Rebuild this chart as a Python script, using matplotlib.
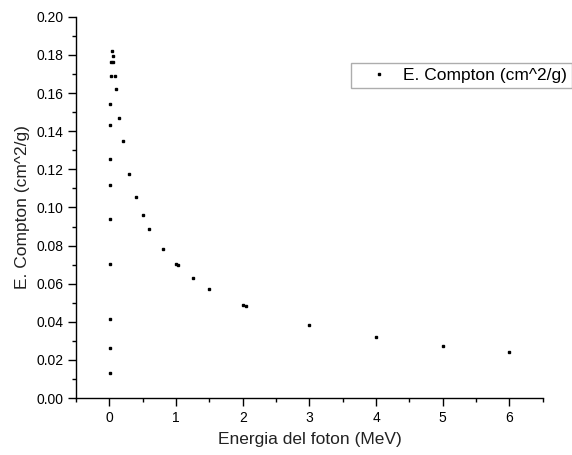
import matplotlib
matplotlib.use('Agg')
import matplotlib.pyplot as plt
from matplotlib.ticker import MultipleLocator

plt.rcParams['font.family'] = ['Liberation Sans', 'DejaVu Sans']

# energia del foton (MeV) y coeficiente Compton (cm^2/g)
energia = [0.0015, 0.002, 0.003, 0.004, 0.005, 0.006, 0.008, 0.01, 0.015, 0.02,
           0.03, 0.04, 0.05, 0.06, 0.08, 0.1, 0.15, 0.2, 0.3, 0.4, 0.5, 0.6,
           0.8, 1.0, 1.022, 1.25, 1.5, 2.0, 2.044, 3, 4, 5, 6]
compton = [0.0133, 0.0264, 0.0416, 0.0703, 0.094, 0.1118, 0.1253, 0.1435, 0.1545, 0.1692,
           0.1765, 0.1823, 0.1795, 0.1762, 0.1692, 0.162, 0.147, 0.1347, 0.1176, 0.1054, 0.0962, 0.0889,
           0.0782, 0.0703, 0.0697, 0.0628, 0.0572, 0.0487, 0.0483, 0.0385, 0.032, 0.0275, 0.0241]

fig = plt.figure(figsize=(5.72, 4.55), dpi=100)
ax = fig.add_axes([0.133, 0.125, 0.816, 0.838])

ax.plot(energia, compton, 's', color='black', markersize=1.6, linestyle='none',
        label='E. Compton (cm^2/g)')

ax.set_xlim(-0.5, 6.5)
ax.set_ylim(0, 0.20)
ax.xaxis.set_major_locator(MultipleLocator(1))
ax.xaxis.set_minor_locator(MultipleLocator(0.5))
ax.yaxis.set_major_locator(MultipleLocator(0.02))
ax.yaxis.set_minor_locator(MultipleLocator(0.01))
ax.yaxis.set_major_formatter(plt.FormatStrFormatter('%.2f'))

ax.spines['top'].set_visible(False)
ax.spines['right'].set_visible(False)
for s in ['left', 'bottom']:
    ax.spines[s].set_linewidth(1.0)
ax.tick_params(which='major', direction='out', length=6, width=1, labelsize=10,
               colors='black', pad=3)
ax.tick_params(which='minor', direction='out', length=3, width=1)

ax.set_xlabel('Energia del foton (MeV)', fontsize=12.5, labelpad=5, color='#222222')
ax.set_ylabel('E. Compton (cm^2/g)', fontsize=12.5, labelpad=5, color='#222222')

leg = ax.legend(loc='upper left', bbox_to_anchor=(351 / 572, 1 - 62.7 / 455),
                bbox_transform=fig.transFigure, fontsize=12.5, fancybox=False,
                borderpad=0.3, handletextpad=0.05, handlelength=2.65, borderaxespad=0)
leg.get_frame().set_edgecolor('#999999')
leg.get_frame().set_linewidth(1.0)

fig.savefig('out.png', dpi=100)
